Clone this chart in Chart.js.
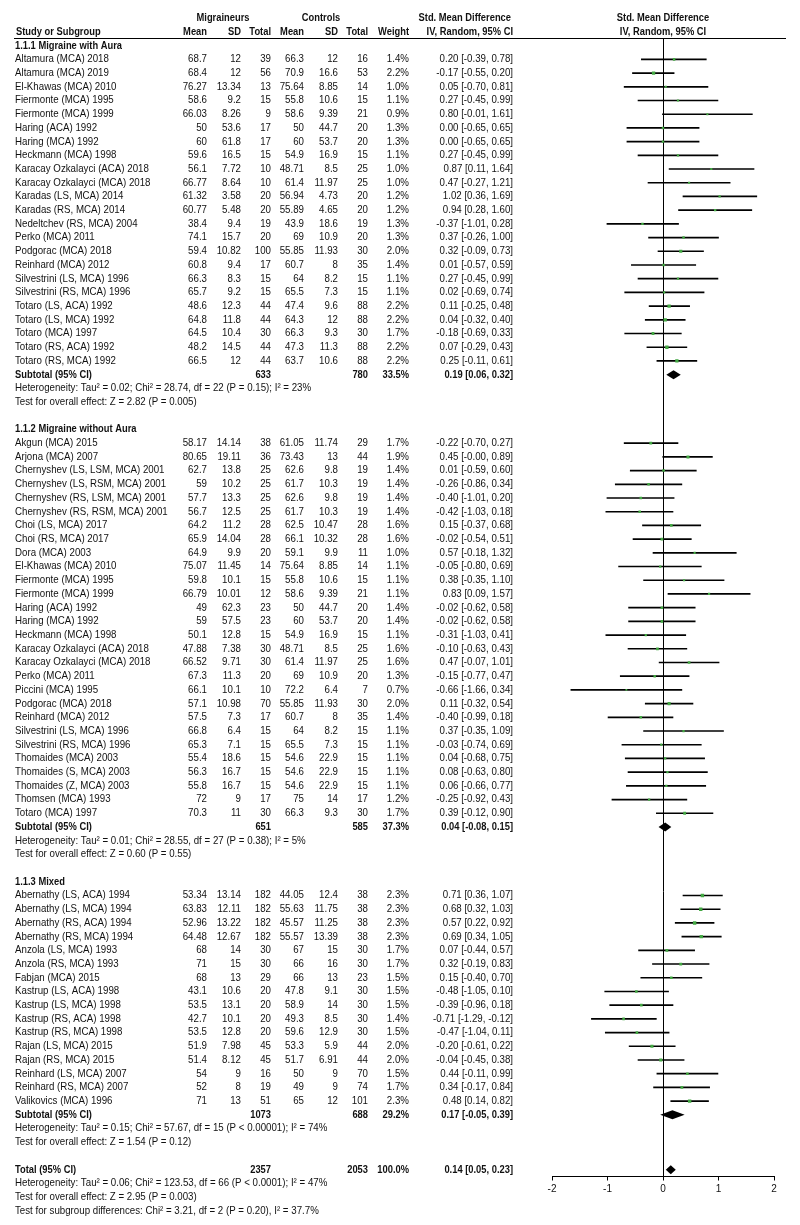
<!DOCTYPE html>
<html>
<head>
<title>Forest plot</title>
<script src="https://cdn.jsdelivr.net/npm/chart.js@4.4.1/dist/chart.umd.min.js"></script>
<style>
  body { margin: 0; background: #fff; }
</style>
</head>
<body>
<canvas id="forest" width="800" height="1225"></canvas>
<script>
// ---- data ----
const groupTitles = ['1.1.1 Migraine with Aura', '1.1.2 Migraine without Aura', '1.1.3 Mixed'];
const groupSizes = [23, 28, 16];

const studyNames = [
  'Altamura (MCA) 2018', 'Altamura (MCA) 2019', 'El-Khawas (MCA) 2010', 'Fiermonte (MCA) 1995',
  'Fiermonte (MCA) 1999', 'Haring (ACA) 1992', 'Haring (MCA) 1992', 'Heckmann (MCA) 1998',
  'Karacay Ozkalayci (ACA) 2018', 'Karacay Ozkalayci (MCA) 2018', 'Karadas (LS, MCA) 2014',
  'Karadas (RS, MCA) 2014', 'Nedeltchev (RS, MCA) 2004', 'Perko (MCA) 2011', 'Podgorac (MCA) 2018',
  'Reinhard (MCA) 2012', 'Silvestrini (LS, MCA) 1996', 'Silvestrini (RS, MCA) 1996',
  'Totaro (LS, ACA) 1992', 'Totaro (LS, MCA) 1992', 'Totaro (MCA) 1997', 'Totaro (RS, ACA) 1992',
  'Totaro (RS, MCA) 1992',
  'Akgun (MCA) 2015', 'Arjona (MCA) 2007', 'Chernyshev (LS, LSM, MCA) 2001',
  'Chernyshev (LS, RSM, MCA) 2001', 'Chernyshev (RS, LSM, MCA) 2001', 'Chernyshev (RS, RSM, MCA) 2001',
  'Choi (LS, MCA) 2017', 'Choi (RS, MCA) 2017', 'Dora (MCA) 2003', 'El-Khawas (MCA) 2010',
  'Fiermonte (MCA) 1995', 'Fiermonte (MCA) 1999', 'Haring (ACA) 1992', 'Haring (MCA) 1992',
  'Heckmann (MCA) 1998', 'Karacay Ozkalayci (ACA) 2018', 'Karacay Ozkalayci (MCA) 2018',
  'Perko (MCA) 2011', 'Piccini (MCA) 1995', 'Podgorac (MCA) 2018', 'Reinhard (MCA) 2012',
  'Silvestrini (LS, MCA) 1996', 'Silvestrini (RS, MCA) 1996', 'Thomaides (MCA) 2003',
  'Thomaides (S, MCA) 2003', 'Thomaides (Z, MCA) 2003', 'Thomsen (MCA) 1993', 'Totaro (MCA) 1997',
  'Abernathy (LS, ACA) 1994', 'Abernathy (LS, MCA) 1994', 'Abernathy (RS, ACA) 1994',
  'Abernathy (RS, MCA) 1994', 'Anzola (LS, MCA) 1993', 'Anzola (RS, MCA) 1993', 'Fabjan (MCA) 2015',
  'Kastrup (LS, ACA) 1998', 'Kastrup (LS, MCA) 1998', 'Kastrup (RS, ACA) 1998', 'Kastrup (RS, MCA) 1998',
  'Rajan (LS, MCA) 2015', 'Rajan (RS, MCA) 2015', 'Reinhard (LS, MCA) 2007', 'Reinhard (RS, MCA) 2007',
  'Valikovics (MCA) 1996'
];

const migMean = [68.7, 68.4, 76.27, 58.6, 66.03, 50, 60, 59.6, 56.1, 66.77, 61.32, 60.77, 38.4, 74.1, 59.4, 60.8, 66.3, 65.7, 48.6, 64.8, 64.5, 48.2, 66.5,
  58.17, 80.65, 62.7, 59, 57.7, 56.7, 64.2, 65.9, 64.9, 75.07, 59.8, 66.79, 49, 59, 50.1, 47.88, 66.52, 67.3, 66.1, 57.1, 57.5, 66.8, 65.3, 55.4, 56.3, 55.8, 72, 70.3,
  53.34, 63.83, 52.96, 64.48, 68, 71, 68, 43.1, 53.5, 42.7, 53.5, 51.9, 51.4, 54, 52, 71];
const migSD = [12, 12, 13.34, 9.2, 8.26, 53.6, 61.8, 16.5, 7.72, 8.64, 3.58, 5.48, 9.4, 15.7, 10.82, 9.4, 8.3, 9.2, 12.3, 11.8, 10.4, 14.5, 12,
  14.14, 19.11, 13.8, 10.2, 13.3, 12.5, 11.2, 14.04, 9.9, 11.45, 10.1, 10.01, 62.3, 57.5, 12.8, 7.38, 9.71, 11.3, 10.1, 10.98, 7.3, 6.4, 7.1, 18.6, 16.7, 16.7, 9, 11,
  13.14, 12.11, 13.22, 12.67, 14, 15, 13, 10.6, 13.1, 10.1, 12.8, 7.98, 8.12, 9, 8, 13];
const migTotal = [39, 56, 13, 15, 9, 17, 17, 15, 10, 10, 20, 20, 19, 20, 100, 17, 15, 15, 44, 44, 30, 44, 44,
  38, 36, 25, 25, 25, 25, 28, 28, 20, 14, 15, 12, 23, 23, 15, 30, 30, 20, 10, 70, 17, 15, 15, 15, 15, 15, 17, 30,
  182, 182, 182, 182, 30, 30, 29, 20, 20, 20, 20, 45, 45, 16, 19, 51];

const conMean = [66.3, 70.9, 75.64, 55.8, 58.6, 50, 60, 54.9, 48.71, 61.4, 56.94, 55.89, 43.9, 69, 55.85, 60.7, 64, 65.5, 47.4, 64.3, 66.3, 47.3, 63.7,
  61.05, 73.43, 62.6, 61.7, 62.6, 61.7, 62.5, 66.1, 59.1, 75.64, 55.8, 58.6, 50, 60, 54.9, 48.71, 61.4, 69, 72.2, 55.85, 60.7, 64, 65.5, 54.6, 54.6, 54.6, 75, 66.3,
  44.05, 55.63, 45.57, 55.57, 67, 66, 66, 47.8, 58.9, 49.3, 59.6, 53.3, 51.7, 50, 49, 65];
const conSD = [12, 16.6, 8.85, 10.6, 9.39, 44.7, 53.7, 16.9, 8.5, 11.97, 4.73, 4.65, 18.6, 10.9, 11.93, 8, 8.2, 7.3, 9.6, 12, 9.3, 11.3, 10.6,
  11.74, 13, 9.8, 10.3, 9.8, 10.3, 10.47, 10.32, 9.9, 8.85, 10.6, 9.39, 44.7, 53.7, 16.9, 8.5, 11.97, 10.9, 6.4, 11.93, 8, 8.2, 7.3, 22.9, 22.9, 22.9, 14, 9.3,
  12.4, 11.75, 11.25, 13.39, 15, 16, 13, 9.1, 14, 8.5, 12.9, 5.9, 6.91, 9, 9, 12];
const conTotal = [16, 53, 14, 15, 21, 20, 20, 15, 25, 25, 20, 20, 19, 20, 30, 35, 15, 15, 88, 88, 30, 88, 88,
  29, 44, 19, 19, 19, 19, 28, 28, 11, 14, 15, 21, 20, 20, 15, 25, 25, 20, 7, 30, 35, 15, 15, 15, 15, 15, 17, 30,
  38, 38, 38, 38, 30, 30, 23, 30, 30, 30, 30, 44, 44, 70, 74, 101];

const weight = [1.4, 2.2, 1.0, 1.1, 0.9, 1.3, 1.3, 1.1, 1.0, 1.0, 1.2, 1.2, 1.3, 1.3, 2.0, 1.4, 1.1, 1.1, 2.2, 2.2, 1.7, 2.2, 2.2,
  1.7, 1.9, 1.4, 1.4, 1.4, 1.4, 1.6, 1.6, 1.0, 1.1, 1.1, 1.1, 1.4, 1.4, 1.1, 1.6, 1.6, 1.3, 0.7, 2.0, 1.4, 1.1, 1.1, 1.1, 1.1, 1.1, 1.2, 1.7,
  2.3, 2.3, 2.3, 2.3, 1.7, 1.7, 1.5, 1.5, 1.5, 1.4, 1.5, 2.0, 2.0, 1.5, 1.7, 2.3];

const smd = [0.20, -0.17, 0.05, 0.27, 0.80, 0.00, 0.00, 0.27, 0.87, 0.47, 1.02, 0.94, -0.37, 0.37, 0.32, 0.01, 0.27, 0.02, 0.11, 0.04, -0.18, 0.07, 0.25,
  -0.22, 0.45, 0.01, -0.26, -0.40, -0.42, 0.15, -0.02, 0.57, -0.05, 0.38, 0.83, -0.02, -0.02, -0.31, -0.10, 0.47, -0.15, -0.66, 0.11, -0.40, 0.37, -0.03, 0.04, 0.08, 0.06, -0.25, 0.39,
  0.71, 0.68, 0.57, 0.69, 0.07, 0.32, 0.15, -0.48, -0.39, -0.71, -0.47, -0.20, -0.04, 0.44, 0.34, 0.48];
const ciLow = [-0.39, -0.55, -0.70, -0.45, -0.01, -0.65, -0.65, -0.45, 0.11, -0.27, 0.36, 0.28, -1.01, -0.26, -0.09, -0.57, -0.45, -0.69, -0.25, -0.32, -0.69, -0.29, -0.11,
  -0.70, -0.004, -0.59, -0.86, -1.01, -1.03, -0.37, -0.54, -0.18, -0.80, -0.35, 0.09, -0.62, -0.62, -1.03, -0.63, -0.07, -0.77, -1.66, -0.32, -0.99, -0.35, -0.74, -0.68, -0.63, -0.66, -0.92, -0.12,
  0.36, 0.32, 0.22, 0.34, -0.44, -0.19, -0.40, -1.05, -0.96, -1.29, -1.04, -0.61, -0.45, -0.11, -0.17, 0.14];
const ciHigh = [0.78, 0.20, 0.81, 0.99, 1.61, 0.65, 0.65, 0.99, 1.64, 1.21, 1.69, 1.60, 0.28, 1.00, 0.73, 0.59, 0.99, 0.74, 0.48, 0.40, 0.33, 0.43, 0.61,
  0.27, 0.89, 0.60, 0.34, 0.20, 0.18, 0.68, 0.51, 1.32, 0.69, 1.10, 1.57, 0.58, 0.58, 0.41, 0.43, 1.01, 0.47, 0.34, 0.54, 0.18, 1.09, 0.69, 0.75, 0.80, 0.77, 0.43, 0.90,
  1.07, 1.03, 0.92, 1.05, 0.57, 0.83, 0.70, 0.10, 0.18, -0.12, 0.11, 0.22, 0.38, 0.99, 0.84, 0.82];

// subgroup and overall results
const subMigTotal = [633, 651, 1073];
const subConTotal = [780, 585, 688];
const subWeight = [33.5, 37.3, 29.2];
const subSmd = [0.19, 0.04, 0.17];
const subLow = [0.06, -0.08, -0.05];
const subHigh = [0.32, 0.15, 0.39];
const subHet = [
  'Heterogeneity: Tau\u00b2 = 0.02; Chi\u00b2 = 28.74, df = 22 (P = 0.15); I\u00b2 = 23%',
  'Heterogeneity: Tau\u00b2 = 0.01; Chi\u00b2 = 28.55, df = 27 (P = 0.38); I\u00b2 = 5%',
  'Heterogeneity: Tau\u00b2 = 0.15; Chi\u00b2 = 57.67, df = 15 (P < 0.00001); I\u00b2 = 74%'
];
const subTest = ['Test for overall effect: Z = 2.82 (P = 0.005)', 'Test for overall effect: Z = 0.60 (P = 0.55)', 'Test for overall effect: Z = 1.54 (P = 0.12)'];

const totalMig = 2357, totalCon = 2053, totalWeight = 100.0;
const totalSmd = 0.14, totalLow = 0.05, totalHigh = 0.23;
const totalNotes = [
  'Heterogeneity: Tau\u00b2 = 0.06; Chi\u00b2 = 123.53, df = 66 (P < 0.0001); I\u00b2 = 47%',
  'Test for overall effect: Z = 2.95 (P = 0.003)',
  'Test for subgroup differences: Chi\u00b2 = 3.21, df = 2 (P = 0.20), I\u00b2 = 37.7%'
];

const xTicks = [-2, -1, 0, 1, 2];

// ---- row layout ----
const studyRow = [];
const groupRow = [], subRow = [];
let r = 0, k = 0;
groupSizes.forEach((n, g) => {
  groupRow.push(r++);
  for (let j = 0; j < n; j++) studyRow[k++] = r++;
  subRow.push(r);
  r += 4; // subtotal, heterogeneity, test, blank
});
const totalRow = r;

const FONT = '"Liberation Sans", Arial, sans-serif';
const INK = '#111';
const fmt2 = v => v.toFixed(2);
const ciText = (e, lo, hi) => fmt2(e) + ' [' + fmt2(lo) + ', ' + fmt2(hi) + ']';

// column right edges of the table
const col = { name: 15, mMean: 207, mSD: 241, mTot: 271, cMean: 304, cSD: 338, cTot: 368, w: 409, ci: 513 };

const tablePlugin = {
  id: 'table',
  afterDraw(chart) {
    const ctx = chart.ctx, xs = chart.scales.x, ys = chart.scales.y;
    const Y = row => ys.getPixelForValue(row);
    // text is a little narrower than plain Arial in the original
    const txt = (s, x, row, align, bold) => {
      ctx.save();
      ctx.font = (bold ? 'bold ' : '') + '10.5px ' + FONT;
      ctx.textAlign = align || 'right';
      ctx.translate(x, Y(row));
      ctx.scale(bold ? 0.89 : 0.925, 1);
      ctx.fillText(s, 0, 0);
      ctx.restore();
    };
    ctx.save();
    ctx.fillStyle = INK;
    ctx.textBaseline = 'middle';

    // header
    txt('Migraineurs', 223, -2, 'center', true);
    txt('Controls', 321, -2, 'center', true);
    txt('Std. Mean Difference', 511, -2, 'right', true);
    txt('Std. Mean Difference', xs.getPixelForValue(0), -2, 'center', true);
    txt('Study or Subgroup', 16, -1, 'left', true);
    txt('Mean', col.mMean, -1, 'right', true);
    txt('SD', col.mSD, -1, 'right', true);
    txt('Total', col.mTot, -1, 'right', true);
    txt('Mean', col.cMean, -1, 'right', true);
    txt('SD', col.cSD, -1, 'right', true);
    txt('Total', col.cTot, -1, 'right', true);
    txt('Weight', col.w, -1, 'right', true);
    txt('IV, Random, 95% CI', col.ci, -1, 'right', true);
    txt('IV, Random, 95% CI', xs.getPixelForValue(0), -1, 'center', true);

    ctx.strokeStyle = '#000';
    ctx.lineWidth = 1;
    ctx.beginPath();
    ctx.moveTo(14, chart.chartArea.top + 0.5);
    ctx.lineTo(786, chart.chartArea.top + 0.5);
    ctx.stroke();

    // studies
    studyNames.forEach((name, i) => {
      const row = studyRow[i];
      txt(name, col.name, row, 'left');
      txt(String(migMean[i]), col.mMean, row);
      txt(String(migSD[i]), col.mSD, row);
      txt(String(migTotal[i]), col.mTot, row);
      txt(String(conMean[i]), col.cMean, row);
      txt(String(conSD[i]), col.cSD, row);
      txt(String(conTotal[i]), col.cTot, row);
      txt(weight[i].toFixed(1) + '%', col.w, row);
      txt(ciText(smd[i], ciLow[i], ciHigh[i]), col.ci, row);
    });

    // subgroups
    groupTitles.forEach((title, g) => {
      txt(title, col.name, groupRow[g], 'left', true);
      const row = subRow[g];
      txt('Subtotal (95% CI)', col.name, row, 'left', true);
      txt(String(subMigTotal[g]), col.mTot, row, 'right', true);
      txt(String(subConTotal[g]), col.cTot, row, 'right', true);
      txt(subWeight[g].toFixed(1) + '%', col.w, row, 'right', true);
      txt(ciText(subSmd[g], subLow[g], subHigh[g]), col.ci, row, 'right', true);
      txt(subHet[g], col.name, row + 1, 'left');
      txt(subTest[g], col.name, row + 2, 'left');
    });

    // overall
    txt('Total (95% CI)', col.name, totalRow, 'left', true);
    txt(String(totalMig), col.mTot, totalRow, 'right', true);
    txt(String(totalCon), col.cTot, totalRow, 'right', true);
    txt(totalWeight.toFixed(1) + '%', col.w, totalRow, 'right', true);
    txt(ciText(totalSmd, totalLow, totalHigh), col.ci, totalRow, 'right', true);
    totalNotes.forEach((s, j) => txt(s, col.name, totalRow + 1 + j, 'left'));

    // pooled diamonds
    const diamond = (e, lo, hi, row) => {
      const y = Y(row), h = 4.5;
      ctx.beginPath();
      ctx.moveTo(xs.getPixelForValue(lo), y);
      ctx.lineTo(xs.getPixelForValue(e), y - h);
      ctx.lineTo(xs.getPixelForValue(hi), y);
      ctx.lineTo(xs.getPixelForValue(e), y + h);
      ctx.closePath();
      ctx.fillStyle = '#000';
      ctx.fill();
    };
    subSmd.forEach((e, g) => diamond(e, subLow[g], subHigh[g], subRow[g]));
    diamond(totalSmd, totalLow, totalHigh, totalRow);
    ctx.restore();
  }
};

new Chart(document.getElementById('forest'), {
  type: 'bar',
  data: {
    datasets: [{
      type: 'bar',
      label: '95% CI',
      data: studyNames.map((_, i) => ({ y: studyRow[i], x: [ciLow[i], ciHigh[i]] })),
      backgroundColor: '#000',
      borderWidth: 0,
      barThickness: 1,
      order: 2
    }, {
      type: 'scatter',
      label: 'Std. Mean Difference',
      data: studyNames.map((_, i) => ({ x: smd[i], y: studyRow[i] })),
      pointStyle: 'rect',
      pointRadius: ctx => 0.8 + weight[ctx.dataIndex] * 0.7,
      backgroundColor: '#43a843',
      borderWidth: 0,
      order: 1
    }]
  },
  options: {
    indexAxis: 'y',
    responsive: false,
    animation: false,
    events: [],
    layout: { padding: { top: 38, left: 552, right: 26, bottom: 0 } },
    plugins: { legend: { display: false }, tooltip: { enabled: false } },
    scales: {
      x: {
        type: 'linear',
        min: xTicks[0],
        max: xTicks[xTicks.length - 1],
        afterBuildTicks: s => { s.ticks = xTicks.map(v => ({ value: v })); },
        afterFit: s => { s.height = 48.5; },
        ticks: { color: INK, font: { family: FONT, size: 10 }, padding: 3 },
        grid: {
          color: c => (c.tick && c.tick.value === 0 ? '#000' : 'rgba(0,0,0,0)'),
          tickColor: '#000',
          tickLength: 4
        },
        border: { color: '#000', width: 1 }
      },
      y: {
        type: 'linear',
        display: false,
        reverse: true,
        offset: false,
        min: -0.56,
        max: 82.5
      }
    }
  },
  plugins: [tablePlugin]
});
</script>
</body>
</html>
